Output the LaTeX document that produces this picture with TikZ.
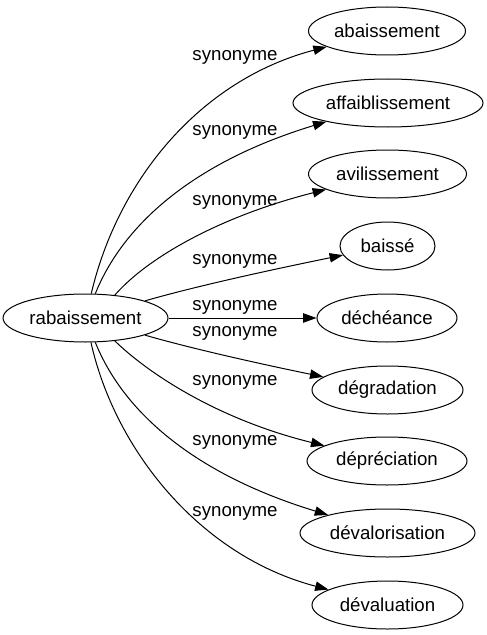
\documentclass[tikz,border=0pt]{standalone}
\usepackage{fontspec}
\setmainfont{Liberation Sans}
\usetikzlibrary{shapes.geometric,arrows.meta}
\begin{document}
\begin{tikzpicture}[x=0.75pt,y=-0.75pt,
  word/.style={draw,ellipse,inner sep=0pt,minimum height=36pt,minimum width=#1*1.5pt,font=\fontsize{14pt}{16pt}\selectfont,line width=0.75pt},
  rel/.style={font=\fontsize{14pt}{16pt}\selectfont,inner sep=0pt},
  edge/.style={line width=0.75pt,-{Triangle[length=10pt,width=7pt]}}]
\useasboundingbox (0,0) rectangle (486,635);
\node[word=82.5] (src) at (85.5,318) {rabaissement};
\node[word=78.5] (n1) at (387,31) {abaissement};
\node[word=95] (n2) at (388,103) {affaiblissement};
\node[word=79] (n3) at (387.5,174) {avilissement};
\node[word=47.5] (n4) at (387.5,246) {baissé};
\node[word=70] (n5) at (387,318) {déchéance};
\node[word=75.5] (n6) at (387.5,390) {dégradation};
\node[word=80] (n7) at (387,461) {dépréciation};
\node[word=87.5] (n8) at (387.5,533) {dévalorisation};
\node[word=75.5] (n9) at (387.5,605) {dévaluation};
\draw[edge] (src) .. controls (118,180) and (200,80) .. (n1);
\draw[edge] (src) .. controls (125,220) and (200,160) .. (n2);
\draw[edge] (src.38) .. controls (150,255) and (225,215) .. (n3);
\draw[edge] (src) .. controls (200,285) and (280,268) .. (n4);
\draw[edge] (src) -- (n5);
\draw[edge] (src) .. controls (200,351) and (280,368) .. (n6);
\draw[edge] (src.-38) .. controls (150,375) and (220,420) .. (n7);
\draw[edge] (src) .. controls (125,416) and (200,476) .. (n8);
\draw[edge] (src) .. controls (115,450) and (200,556) .. (n9);
\node[rel] (l1) at (235,57) {synonyme};
\node[rel] (l2) at (235,132) {synonyme};
\node[rel] (l3) at (235,202) {synonyme};
\node[rel] (l4) at (235,261) {synonyme};
\node[rel] (l5) at (235,307) {synonyme};
\node[rel] (l6) at (235,333) {synonyme};
\node[rel] (l7) at (235,382) {synonyme};
\node[rel] (l8) at (235,442) {synonyme};
\node[rel] (l9) at (235,513) {synonyme};
\end{tikzpicture}
\end{document}
